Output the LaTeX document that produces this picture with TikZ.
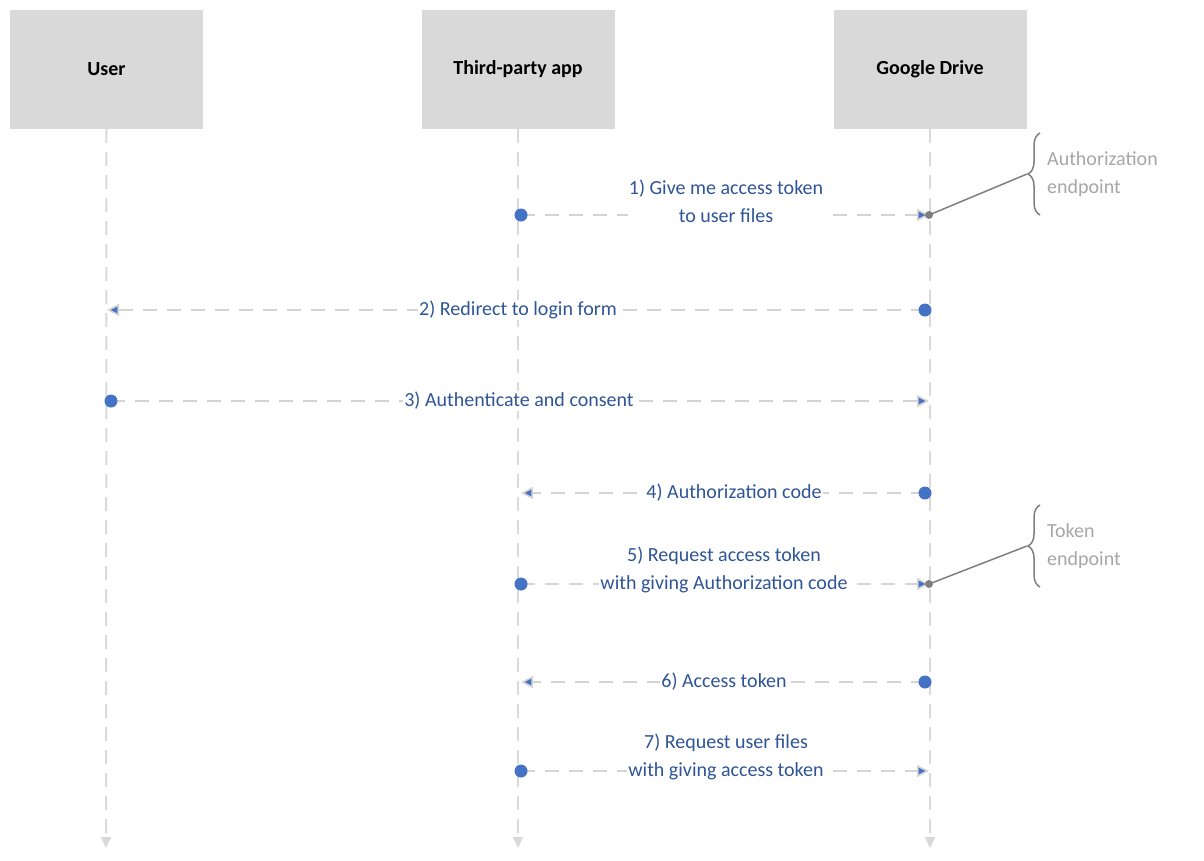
\documentclass[tikz,border=0pt]{standalone}
\usepackage{fontspec}
\setmainfont{Carlito}
\usetikzlibrary{arrows.meta, decorations.pathreplacing, calc}
\definecolor{boxgray}{HTML}{D9D9D9}
\definecolor{linegray}{HTML}{D4D4D4}
\definecolor{dotblue}{HTML}{4472C4}
\definecolor{textblue}{HTML}{2F5597}
\definecolor{notegray}{HTML}{A6A6A6}
\definecolor{bracegray}{HTML}{7F7F7F}
\tikzset{
  actor/.style={fill=boxgray, minimum width=193pt, minimum height=119pt, inner sep=0pt, font=\fontsize{20}{24}\selectfont\bfseries},
  life/.style={draw=boxgray, line width=2pt, dash pattern=on 14pt off 9pt, -{Triangle[length=11pt,width=10pt,fill=boxgray]}},
  msg/.style={draw=linegray, line width=1.6pt, dash pattern=on 14pt off 10pt},
  lbl/.style={fill=white, text=textblue, align=center, inner sep=1pt, font=\fontsize{20}{28}\selectfont},
  note/.style={text=notegray, align=left, anchor=west, inner sep=0pt, font=\fontsize{20}{28}\selectfont},
  dot/.style={circle, fill=dotblue, inner sep=0pt, minimum size=13pt},
  tip/.style={-{Triangle[length=12pt,width=12pt,fill=dotblue]}},
}
\begin{document}
\begin{tikzpicture}[x=1pt, y=-1pt]
        \useasboundingbox (0,0) rectangle (1204,860);
        % actors
        \node[actor] (user) at (106.5,69.5) {User};
        \node[actor] (app) at (518,69.5) {Third-party app};
        \node[actor] (drive) at (930,69.5) {Google Drive};
        
        \coordinate (userEnd) at (106,848);
        \coordinate (appEnd) at (518,848);
        \coordinate (driveEnd) at (930,848);
        \draw[life] (user.south) -- (userEnd);
        \draw[life] (app.south) -- (appEnd);
        \draw[life] (drive.south) -- (driveEnd);
        
        % 1)
        \coordinate (m1a) at (521,215);
        \coordinate (m1b) at (929,215);
        \draw[msg, tip] (m1a) -- (m1b);
        \node[dot] at (m1a) {};
        \node[lbl] (l1) at (726,201) {1) Give me access token\\to user files};
        
        % 2)
        \coordinate (m2a) at (925,310);
        \coordinate (m2b) at (107,310);
        \draw[msg, tip] (m2a) -- (m2b);
        \node[dot] at (m2a) {};
        \node[lbl] (l2) at (518,310) {2) Redirect to login form};
        
        % 3)
        \coordinate (m3a) at (111,401);
        \coordinate (m3b) at (929,401);
        \draw[msg, tip] (m3a) -- (m3b);
        \node[dot] at (m3a) {};
        \node[lbl] (l3) at (519,401) {3) Authenticate and consent};
        
        % 4)
        \coordinate (m4a) at (925,493);
        \coordinate (m4b) at (521,493);
        \draw[msg, tip] (m4a) -- (m4b);
        \node[dot] at (m4a) {};
        \node[lbl] (l4) at (734,493) {4) Authorization code};
        
        % 5)
        \coordinate (m5a) at (521,584);
        \coordinate (m5b) at (929,584);
        \draw[msg, tip] (m5a) -- (m5b);
        \node[dot] at (m5a) {};
        \node[lbl] (l5) at (724,570) {5) Request access token\\with giving Authorization code};
        
        % 6)
        \coordinate (m6a) at (925,682);
        \coordinate (m6b) at (521,682);
        \draw[msg, tip] (m6a) -- (m6b);
        \node[dot] at (m6a) {};
        \node[lbl] (l6) at (724,682) {6) Access token};
        
        % 7)
        \coordinate (m7a) at (521,771);
        \coordinate (m7b) at (929,771);
        \draw[msg, tip] (m7a) -- (m7b);
        \node[dot] at (m7a) {};
        \node[lbl] (l7) at (726,757) {7) Request user files\\with giving access token};
        
        % endpoints
        \draw[bracegray, line width=1.5pt, decorate, decoration={brace, amplitude=12pt}]
            (1040,215) -- (1040,133) coordinate[pos=0.5, xshift=-13pt] (authTip);
        \draw[bracegray, line width=1.5pt, decorate, decoration={brace, amplitude=12pt}]
            (1040,587) -- (1040,505) coordinate[pos=0.5, xshift=-13pt] (tokTip);
        \draw[bracegray, line width=1.5pt] (m1b) -- (authTip);
        \draw[bracegray, line width=1.5pt] (m5b) -- (tokTip);
        \fill[bracegray] (m1b) circle (4pt);
        \fill[bracegray] (m5b) circle (4pt);
        \node[note] (auth) at (1047,174) {Authorization\\endpoint};
        \node[note] (tok) at (1047,546) {Token\\endpoint};
\end{tikzpicture}
\end{document}
